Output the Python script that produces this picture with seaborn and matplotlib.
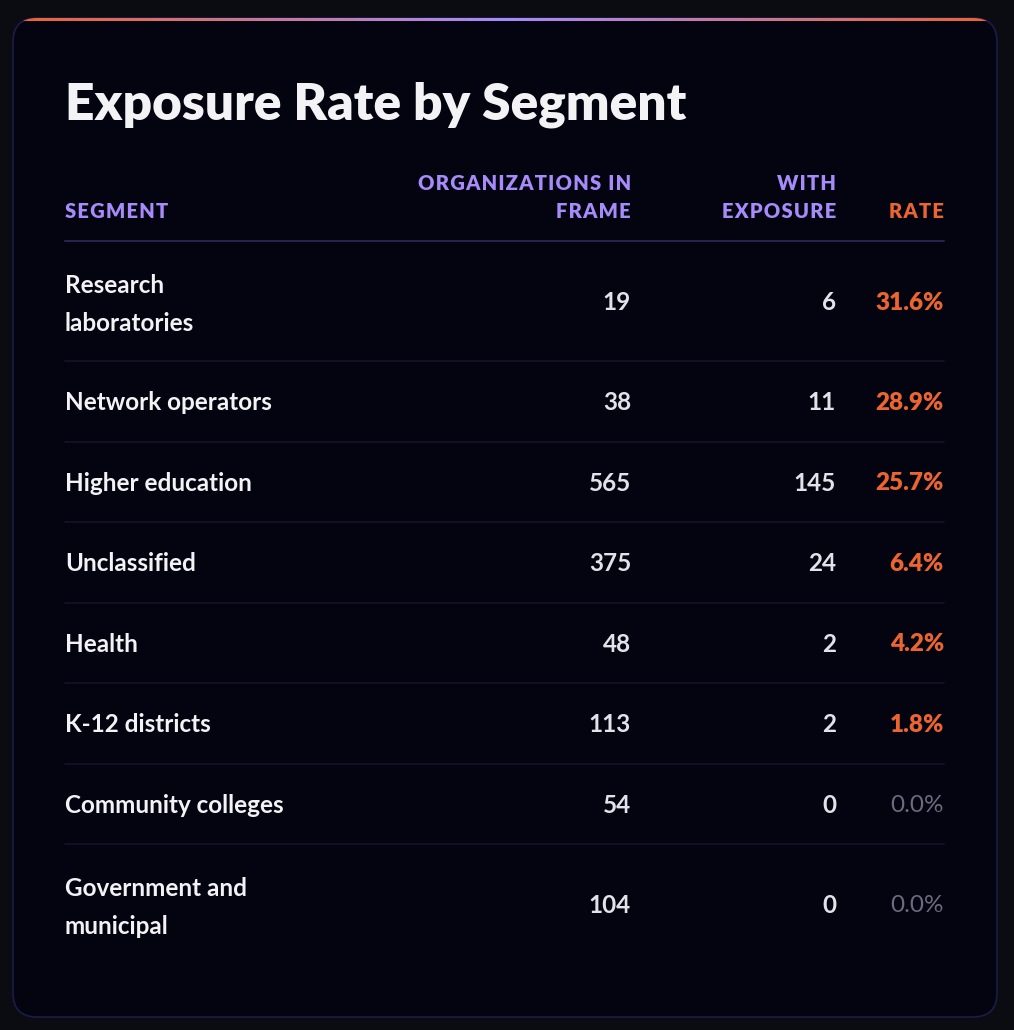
import numpy as np
import matplotlib.pyplot as plt
import seaborn as sns
from matplotlib.patches import FancyBboxPatch
from matplotlib.colors import LinearSegmentedColormap

# table data
segments = ["Research\nlaboratories", "Network operators", "Higher education", "Unclassified",
            "Health", "K-12 districts", "Community colleges", "Government and\nmunicipal"]
orgs_in_frame = [19, 38, 565, 375, 48, 113, 54, 104]
with_exposure = [6, 11, 145, 24, 2, 2, 0, 0]
rates = [31.6, 28.9, 25.7, 6.4, 4.2, 1.8, 0.0, 0.0]
headers = ["SEGMENT", "ORGANIZATIONS IN\nFRAME", "WITH\nEXPOSURE", "RATE"]

sns.set_theme(style="dark")
plt.rcParams['font.family'] = ['Lato', 'DejaVu Sans']

BG = "#0b0b12"
CARD = "#03040f"
WHITE = "#f3f3f6"
NUM = "#e2e2ea"
PURPLE = "#a78bfa"
ORANGE = "#ec6430"
GREY = "#6c6c80"


def spaced(s):
    # crude letter spacing for the uppercase headers
    return "\n".join("\u200a".join(line) for line in s.split("\n"))


fig = plt.figure(figsize=(10.14, 10.30), dpi=100, facecolor=BG)
ax = fig.add_axes([0, 0, 1, 1])
ax.set_xlim(0, 1014)
ax.set_ylim(1030, 0)
ax.axis("off")
ax.set_facecolor(BG)

card = FancyBboxPatch((13, 18), 984, 999, boxstyle="round,pad=0,rounding_size=24",
                      facecolor=CARD, edgecolor="#1c1c48", linewidth=1.2, zorder=1)
ax.add_patch(card)

# gradient top border
cmap = LinearSegmentedColormap.from_list("edge", [ORANGE, "#a78bfa", ORANGE])
grad = np.linspace(0, 1, 512).reshape(1, -1)
im = ax.imshow(grad, cmap=cmap, extent=(13, 997, 21, 17), aspect="auto", zorder=2)
im.set_clip_path(card)

ax.text(65, 105, "Exposure Rate by Segment", color=WHITE, fontsize=37, fontweight="heavy",
        va="center", ha="left", zorder=3)

left, right = 65, 944
col_x = [65, 631, 836, 944]
col_ha = ["left", "right", "right", "right"]
for i, h in enumerate(headers):
    col = ORANGE if h == "RATE" else PURPLE
    ax.text(col_x[i], 218, spaced(h), color=col, fontsize=14.5, fontweight="heavy", ha=col_ha[i],
            va="baseline", linespacing=1.58, zorder=3)

ax.plot([left, right], [241, 241], color="#25244a", lw=1.5, zorder=3)

y = 241
for i, seg in enumerate(segments):
    two_lines = "\n" in seg
    h = 120 if two_lines else 80.5
    cy = y + h / 2 + 1.5
    ax.text(65, cy + (2 if two_lines else 0), seg, color=WHITE, fontsize=17.5, fontweight="bold",
            ha="left", va="center", linespacing=1.8, zorder=3)
    ax.text(631, cy, str(orgs_in_frame[i]), color=NUM, fontsize=17.5, fontweight="bold",
            ha="right", va="center", zorder=3)
    ax.text(836, cy, str(with_exposure[i]), color=NUM, fontsize=17.5, fontweight="bold",
            ha="right", va="center", zorder=3)
    if rates[i] > 0:
        ax.text(944, cy, f"{rates[i]:.1f}%", color=ORANGE, fontsize=17.5, fontweight="heavy",
                ha="right", va="center", zorder=3)
    else:
        ax.text(944, cy, f"{rates[i]:.1f}%", color=GREY, fontsize=17.5, fontweight="normal",
                ha="right", va="center", zorder=3)
    y += h
    if i < len(segments) - 1:
        ax.plot([left, right], [y, y], color="#14142a", lw=1.2, zorder=3)

fig.savefig("out.png", dpi=100, facecolor=BG)
